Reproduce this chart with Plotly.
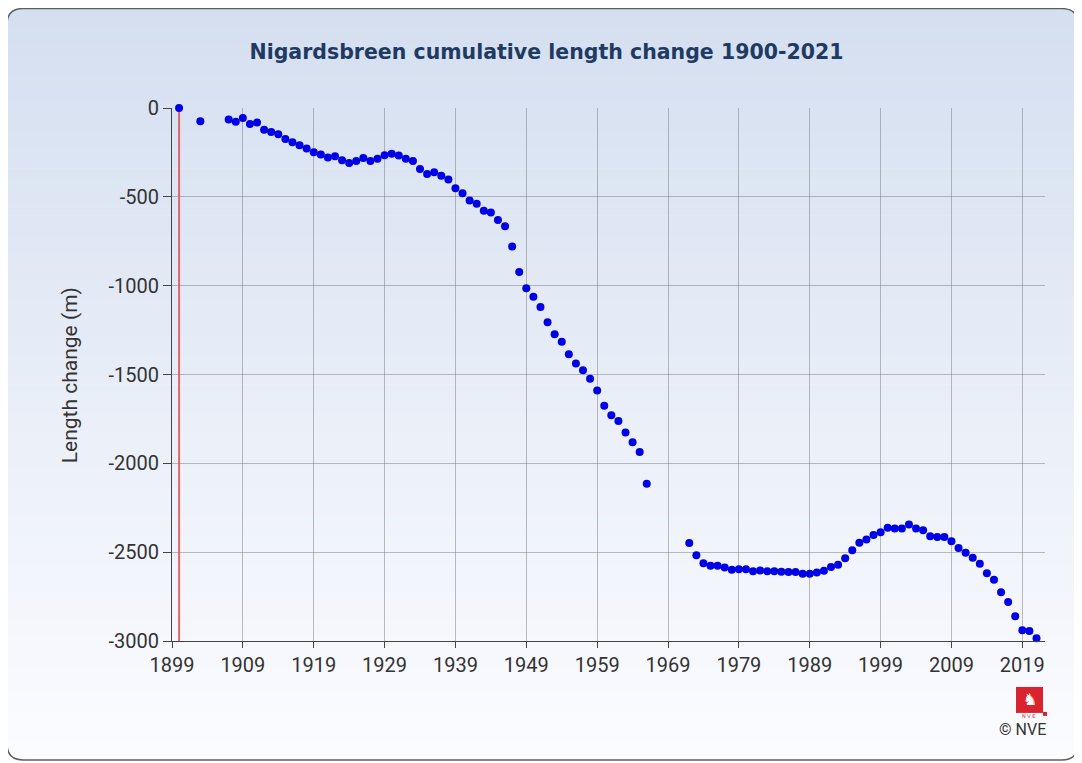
import plotly.graph_objects as go

# ---------------- data ----------------
years = [1900, 1903, 1907, 1908, 1909, 1910, 1911, 1912, 1913, 1914, 1915, 1916, 1917, 1918,
         1919, 1920, 1921, 1922, 1923, 1924, 1925, 1926, 1927, 1928, 1929, 1930, 1931, 1932,
         1933, 1934, 1935, 1936, 1937, 1938, 1939, 1940, 1941, 1942, 1943, 1944, 1945, 1946,
         1947, 1948, 1949, 1950, 1951, 1952, 1953, 1954, 1955, 1956, 1957, 1958, 1959, 1960,
         1961, 1962, 1963, 1964, 1965, 1966,
         1972, 1973, 1974, 1975, 1976, 1977, 1978, 1979, 1980, 1981, 1982, 1983, 1984, 1985,
         1986, 1987, 1988, 1989, 1990, 1991, 1992, 1993, 1994, 1995, 1996, 1997, 1998, 1999,
         2000, 2001, 2002, 2003, 2004, 2005, 2006, 2007, 2008, 2009, 2010, 2011, 2012, 2013,
         2014, 2015, 2016, 2017, 2018, 2019, 2020, 2021]
length_change = [0, -75, -65, -77, -56, -90, -82, -123, -135, -148, -174, -193, -210, -228,
                 -249, -262, -279, -271, -294, -309, -298, -281, -299, -285, -266, -257, -268, -285,
                 -299, -344, -371, -361, -382, -402, -452, -480, -521, -539, -579, -588, -631, -666,
                 -779, -923, -1015, -1063, -1120, -1206, -1273, -1315, -1386, -1438, -1476, -1524, -1590, -1676,
                 -1730, -1762, -1826, -1882, -1936, -2115,
                 -2449, -2517, -2562, -2577, -2577, -2586, -2599, -2596, -2596, -2607, -2603, -2607, -2607, -2610,
                 -2612, -2612, -2621, -2621, -2614, -2605, -2584, -2571, -2534, -2489, -2447, -2429, -2404, -2388,
                 -2363, -2367, -2367, -2344, -2367, -2376, -2410, -2414, -2414, -2438, -2477, -2503, -2531, -2565,
                 -2618, -2655, -2726, -2781, -2861, -2940, -2944, -2985]
reference_year = [1900, 1900]
reference_span = [0, -3000]
x_tick_start = 1899
x_tick_step = 10
y_tick_vals = [0, -500, -1000, -1500, -2000, -2500, -3000]
y_tick_text = ["0", "-500", "-1000", "-1500", "-2000", "-2500", "-3000"]

TITLE = "Nigardsbreen cumulative length change 1900-2021"
Y_TITLE = "Length change (m)"

# ---------------- layout geometry ----------------
# the page body adds an 8px margin, so the figure is drawn 8px smaller and
# all reference-pixel positions are shifted by OFF
OFF = 8
W, H = 1082 - OFF, 763 - OFF
L = 172 - OFF
R = W - (1045 - OFF)
T = 107.5 - OFF
B = H - (641 - OFF)
PW = W - L - R
PH = H - T - B


def px(x):
    return (x - OFF - L) / PW


def py(y):
    return (H - B - (y - OFF)) / PH


shapes = []
# card gradient background
cx0, cy0, cx1, cy1 = 7, 8, 1078, 760
n = 80
top_c = (212, 223, 240)
bot_c = (252, 252, 255)
for i in range(n):
    t = i / (n - 1)
    c = tuple(int(round(top_c[k] + (bot_c[k] - top_c[k]) * t)) for k in range(3))
    ya = cy0 + (cy1 - cy0) * i / n
    yb = cy0 + (cy1 - cy0) * (i + 1) / n + 0.6
    shapes.append(dict(type="rect", xref="paper", yref="paper", layer="below",
                       x0=px(cx0), x1=px(cx1), y0=py(ya), y1=py(yb),
                       line=dict(width=0), fillcolor="rgb(%d,%d,%d)" % c))

rad = 16


def P(x, y):
    return "%.5f,%.5f" % (px(x), py(y))


# white corner masks
masks = [
    "M%s L%s Q%s %s Z" % (P(cx0 - 1, cy0 - 1), P(cx0 + rad, cy0 - 1), P(cx0, cy0), P(cx0 - 1, cy0 + rad)),
    "M%s L%s Q%s %s Z" % (P(cx1 + 1, cy0 - 1), P(cx1 - rad, cy0 - 1), P(cx1, cy0), P(cx1 + 1, cy0 + rad)),
    "M%s L%s Q%s %s Z" % (P(cx0 - 1, cy1 + 1), P(cx0 + rad, cy1 + 1), P(cx0, cy1), P(cx0 - 1, cy1 - rad)),
    "M%s L%s Q%s %s Z" % (P(cx1 + 1, cy1 + 1), P(cx1 - rad, cy1 + 1), P(cx1, cy1), P(cx1 + 1, cy1 - rad)),
]
for m in masks:
    shapes.append(dict(type="path", xref="paper", yref="paper", layer="below", path=m,
                       fillcolor="white", line=dict(width=0)))

border = ("M%s L%s Q%s %s L%s Q%s %s L%s Q%s %s L%s Q%s %s Z" % (
    P(cx0 + rad, cy0), P(cx1 - rad, cy0), P(cx1, cy0), P(cx1, cy0 + rad),
    P(cx1, cy1 - rad), P(cx1, cy1), P(cx1 - rad, cy1),
    P(cx0 + rad, cy1), P(cx0, cy1), P(cx0, cy1 - rad),
    P(cx0, cy0 + rad), P(cx0, cy0), P(cx0 + rad, cy0)))
shapes.append(dict(type="path", xref="paper", yref="paper", layer="below", path=border,
                   line=dict(color="#5a5f66", width=1.5)))

# NVE logo square
shapes.append(dict(type="rect", xref="paper", yref="paper", layer="above",
                   x0=px(1016), x1=px(1043), y0=py(687), y1=py(713),
                   fillcolor="#d9232e", line=dict(width=0)))
shapes.append(dict(type="rect", xref="paper", yref="paper", layer="above",
                   x0=px(1043), x1=px(1047), y0=py(712), y1=py(716),
                   fillcolor="#d9232e", line=dict(width=0)))

annotations = [
    dict(text="♞", xref="paper", yref="paper", x=px(1029.5), y=py(700), showarrow=False,
         font=dict(family="DejaVu Sans", size=16, color="white"), xanchor="center", yanchor="middle"),
    dict(text="N V E", xref="paper", yref="paper", x=px(1029), y=py(716), showarrow=False,
         font=dict(family="DejaVu Sans", size=5, color="#d9232e"), xanchor="center", yanchor="middle"),
    dict(text="© NVE", xref="paper", yref="paper", x=px(1022.5), y=py(730), showarrow=False,
         font=dict(family="Roboto", size=16, color="#333333"), xanchor="center", yanchor="middle"),
    dict(text=Y_TITLE, xref="paper", yref="paper", x=px(70), y=py(375), showarrow=False,
         textangle=-90, font=dict(family="Roboto", size=21, color="#333333"),
         xanchor="center", yanchor="middle"),
]

fig = go.Figure()
fig.add_trace(go.Scatter(x=reference_year, y=reference_span, mode="lines",
                         line=dict(color="rgba(222,80,80,0.85)", width=2),
                         hoverinfo="skip", showlegend=False))
fig.add_trace(go.Scatter(x=years, y=length_change, mode="markers",
                         marker=dict(color="#0000e6", size=8, line=dict(width=0)),
                         cliponaxis=False, showlegend=False,
                         hovertemplate="%{x}: %{y} m<extra></extra>"))

fig.update_layout(
    width=W, height=H,
    margin=dict(l=L, r=R, t=T, b=B),
    paper_bgcolor="white",
    plot_bgcolor="rgba(0,0,0,0)",
    shapes=shapes,
    annotations=annotations,
    title=dict(text="<b>" + TITLE + "</b>", x=(546.5 - OFF) / W, xref="container",
               y=1 - (52 - OFF) / H, yref="container",
               xanchor="center", yanchor="middle",
               font=dict(family="DejaVu Sans", size=20.5, color="#1f3b63")),
    font=dict(family="Roboto", color="#333333"),
)
fig.update_xaxes(range=[1899, 2022.2], tick0=x_tick_start, dtick=x_tick_step,
                 showgrid=True, gridcolor="rgba(110,110,120,0.45)", gridwidth=1,
                 showline=True, linecolor="#444", linewidth=1,
                 ticks="outside", ticklen=6, tickcolor="#444",
                 tickfont=dict(family="Roboto", size=20, color="#333"), zeroline=False)
fig.update_yaxes(range=[-3000, 0], tickvals=y_tick_vals, ticktext=y_tick_text,
                 showgrid=True, gridcolor="rgba(110,110,120,0.45)", gridwidth=1,
                 showline=True, linecolor="#444", linewidth=1,
                 ticks="outside", ticklen=8, tickcolor="#444",
                 tickfont=dict(family="Roboto", size=20, color="#333"), zeroline=False)

fig.write_html("out.html")
